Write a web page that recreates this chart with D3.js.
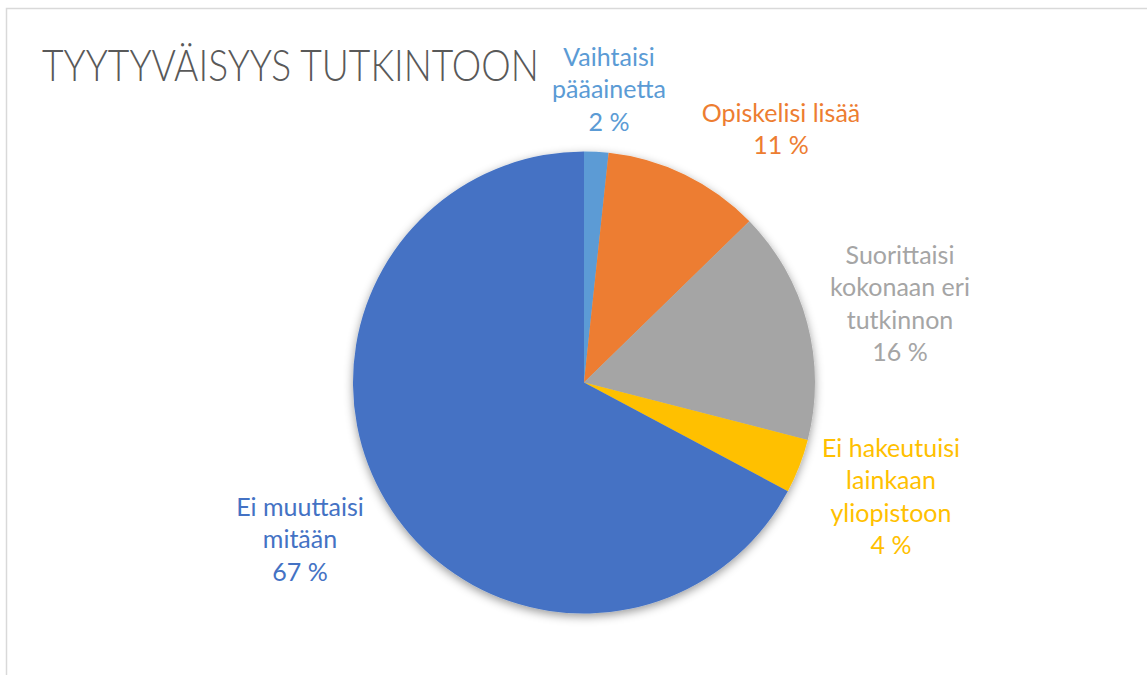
<!DOCTYPE html>
<html><head><meta charset="utf-8">
<script src="https://cdn.jsdelivr.net/npm/d3@7"></script>
<style>html,body{margin:0;padding:0;background:#fff;}svg{display:block;}</style>
</head><body>
<svg id="chart" width="1147" height="675"></svg>
<script>
const title = "TYYTYVÄISYYS TUTKINTOON";
const categories = ["Vaihtaisi pääainetta", "Opiskelisi lisää", "Suorittaisi kokonaan eri tutkinnon", "Ei hakeutuisi lainkaan yliopistoon", "Ei muuttaisi mitään"];
const labelLines = [["Vaihtaisi", "pääainetta", "2 %"], ["Opiskelisi lisää", "11 %"], ["Suorittaisi", "kokonaan eri", "tutkinnon", "16 %"], ["Ei hakeutuisi", "lainkaan", "yliopistoon", "4 %"], ["Ei muuttaisi", "mitään", "67 %"]];
const values = [1.7, 11.0, 16.3, 3.8, 67.2];
const colors = ["#5B9BD5", "#ED7D31", "#A5A5A5", "#FFC000", "#4472C4"];

const svg = d3.select("#chart");
svg.append("rect").attr("x", 6.5).attr("y", 8.5).attr("width", 1160).attr("height", 700)
  .attr("fill", "#fff").attr("stroke", "#d9d9d9").attr("stroke-width", 1.5);

const defs = svg.append("defs");
const f = defs.append("filter").attr("id", "sh").attr("x", "-20%").attr("y", "-20%").attr("width", "140%").attr("height", "140%");
f.append("feDropShadow").attr("dx", 0).attr("dy", 3).attr("stdDeviation", 5)
  .attr("flood-color", "#000").attr("flood-opacity", 0.4);

const titleEl = svg.append("text").attr("x", 0).attr("y", 0).text(title)
  .attr("font-family", "Lato, 'Open Sans', sans-serif").attr("font-weight", 300)
  .attr("font-size", 44).attr("fill", "#595959");
const natural = titleEl.node().getComputedTextLength();
titleEl.attr("transform", `translate(42,81) scale(${497 / natural},1)`);

const cx = 584, cy = 382.5, r = 231;
const pie = d3.pie().sort(null).value(d => d)(values);
const arc = d3.arc().innerRadius(0).outerRadius(r);
const g = svg.append("g").attr("transform", `translate(${cx},${cy})`);
const slices = g.append("g").attr("filter", "url(#sh)");
slices.selectAll("path").data(pie).join("path")
  .attr("d", arc).attr("fill", (d, i) => colors[i]);

const labelPos = [[609, 66], [781, 122], [900, 264], [891, 457], [300, 516]];
const lineH = 32.3;
labelLines.forEach((lines, i) => {
  const t = svg.append("text").attr("text-anchor", "middle")
    .attr("font-family", "Lato, 'Open Sans', sans-serif").attr("font-size", 25)
    .attr("fill", colors[i]);
  lines.forEach((ln, j) => {
    t.append("tspan").attr("x", labelPos[i][0]).attr("y", labelPos[i][1] + j * lineH).text(ln);
  });
});
</script>
</body></html>
